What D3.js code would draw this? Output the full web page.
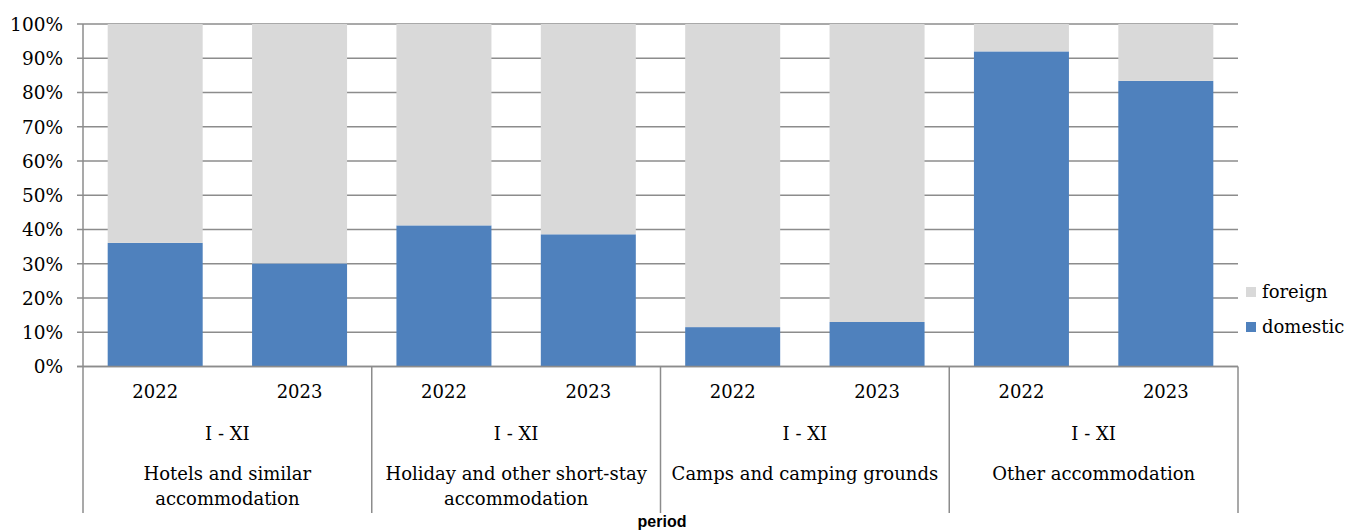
<!DOCTYPE html>
<html><head><meta charset="utf-8">
<script src="https://cdn.jsdelivr.net/npm/d3@7"></script>
<style>body{margin:0;background:#fff}</style>
</head><body>
<svg id="chart" width="1345" height="531"></svg>
<script>
const categories = [["Hotels and similar","accommodation"],["Holiday and other short-stay","accommodation"],["Camps and camping grounds"],["Other accommodation"]];
const years = ["2022","2023"];
const periodLabel = "I - XI";
const domestic = [36.1, 30.1, 41.2, 38.6, 11.5, 13.0, 92.0, 83.4];
const foreign = domestic.map(d => 100 - d);
const yTicks = [0,10,20,30,40,50,60,70,80,90,100];
const seriesNames = ["domestic","foreign"];
const colors = {domestic:"#4F81BD", foreign:"#D9D9D9"};

const svg = d3.select("#chart");
const L = 83, R = 1238, T = 24, B = 366.5;
const serif = "DejaVu Serif";

const y = d3.scaleLinear().domain([0,100]).range([B,T]);
const x0 = d3.scaleBand().domain(d3.range(categories.length)).range([L,R]).padding(0);
const x1 = d3.scaleBand().domain(years).range([0,x0.bandwidth()]).paddingInner(0.342).paddingOuter(0.171);

// gridlines
svg.append("g").selectAll("line").data(yTicks).join("line")
  .attr("x1",L-6).attr("x2",R).attr("y1",d=>y(d)).attr("y2",d=>y(d))
  .attr("stroke","#8c8c8c").attr("stroke-width",1.5);

// y labels
const yAxis = d3.axisLeft(y).tickValues(yTicks).tickFormat(d=>d+"%").tickSize(0).tickPadding(0);
const ya = svg.append("g").attr("transform",`translate(${L-20},0)`).call(yAxis);
ya.select(".domain").remove();
ya.selectAll("text").attr("font-family",serif).attr("font-size",18.5).attr("fill","#000").attr("dy","0.35em");

// data rows
const rows = [];
categories.forEach((c,i)=>years.forEach((yr,j)=>{
  const k = i*years.length+j;
  rows.push({cat:i, year:yr, domestic:domestic[k], foreign:foreign[k]});
}));
const stack = d3.stack().keys(seriesNames)(rows);
svg.append("g").selectAll("g").data(stack).join("g")
  .attr("fill",d=>colors[d.key])
  .selectAll("rect").data(d=>d).join("rect")
  .attr("x",d=>x0(d.data.cat)+x1(d.data.year))
  .attr("width",x1.bandwidth())
  .attr("y",d=>y(d[1]))
  .attr("height",d=>y(d[0])-y(d[1]));

// y axis line
svg.append("line").attr("x1",L).attr("x2",L).attr("y1",T).attr("y2",B)
  .attr("stroke","#8c8c8c").attr("stroke-width",1.5);
// bottom axis line
svg.append("line").attr("x1",L-6).attr("x2",R).attr("y1",B).attr("y2",B)
  .attr("stroke","#8c8c8c").attr("stroke-width",1.5);

// group separators
const seps = d3.range(categories.length+1).map(i => i<categories.length ? x0(i) : R);
svg.append("g").selectAll("line").data(seps).join("line")
  .attr("x1",d=>d).attr("x2",d=>d).attr("y1",B).attr("y2",513)
  .attr("stroke","#8c8c8c").attr("stroke-width",1.5);

// year labels
svg.append("g").selectAll("text").data(rows).join("text")
  .attr("x",d=>x0(d.cat)+x1(d.year)+x1.bandwidth()/2).attr("y",392).attr("dy","0.35em")
  .attr("text-anchor","middle").attr("font-family",serif).attr("font-size",18).text(d=>d.year);
// period labels
svg.append("g").selectAll("text").data(categories).join("text")
  .attr("x",(d,i)=>x0(i)+x0.bandwidth()/2).attr("y",434).attr("dy","0.35em")
  .attr("text-anchor","middle").attr("font-family",serif).attr("font-size",18).text(periodLabel);
// category labels
const cg = svg.append("g").selectAll("text").data(categories).join("text")
  .attr("x",(d,i)=>x0(i)+x0.bandwidth()/2).attr("y",474)
  .attr("text-anchor","middle").attr("font-family",serif).attr("font-size",18);
cg.selectAll("tspan").data(d=>d).join("tspan")
  .attr("x",function(){return this.parentNode.getAttribute("x");})
  .attr("dy",(d,i)=>i===0?"0.35em":"1.35em").text(d=>d);

// axis title
svg.append("text").attr("x",662).attr("y",521).attr("dy","0.35em").attr("text-anchor","middle")
  .attr("font-family","Liberation Sans").attr("font-weight","bold").attr("font-size",16).text("period");

// legend
const legendItems = ["foreign","domestic"];
const lg = svg.append("g").selectAll("g").data(legendItems).join("g")
  .attr("transform",(d,i)=>`translate(1246,${292+i*35})`);
lg.append("rect").attr("x",0).attr("y",-5).attr("width",10).attr("height",10).attr("fill",d=>colors[d]);
lg.append("text").attr("x",16).attr("dy","0.35em").attr("font-family",serif).attr("font-size",18).text(d=>d);
</script>
</body></html>
